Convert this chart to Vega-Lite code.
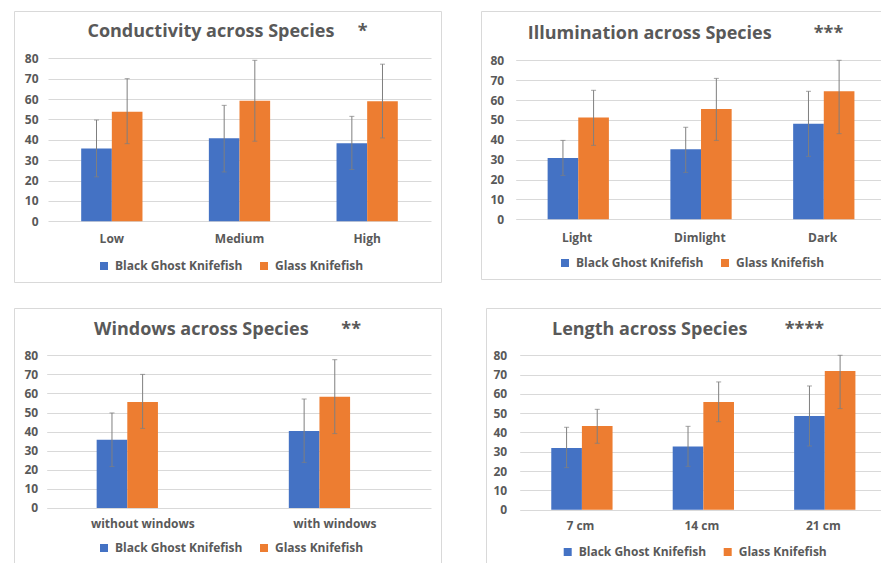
{
  "$schema": "https://vega.github.io/schema/vega-lite/v6.json",
  "padding": {"left": 13, "top": 10, "right": 0, "bottom": 0},
  "background": "white",
  "datasets": {
    "conductivity": [
      {"category": "Low", "species": "Black Ghost Knifefish", "mean": 35.7, "lower": 21.8, "upper": 49.7},
      {"category": "Low", "species": "Glass Knifefish", "mean": 53.8, "lower": 38.1, "upper": 70.0},
      {"category": "Medium", "species": "Black Ghost Knifefish", "mean": 40.7, "lower": 24.2, "upper": 56.9},
      {"category": "Medium", "species": "Glass Knifefish", "mean": 59.2, "lower": 39.3, "upper": 79.0},
      {"category": "High", "species": "Black Ghost Knifefish", "mean": 38.3, "lower": 25.4, "upper": 51.5},
      {"category": "High", "species": "Glass Knifefish", "mean": 58.9, "lower": 40.9, "upper": 77.1}
    ],
    "illumination": [
      {"category": "Light", "species": "Black Ghost Knifefish", "mean": 30.9, "lower": 22.1, "upper": 39.7},
      {"category": "Light", "species": "Glass Knifefish", "mean": 51.2, "lower": 37.2, "upper": 64.9},
      {"category": "Dimlight", "species": "Black Ghost Knifefish", "mean": 35.2, "lower": 23.6, "upper": 46.3},
      {"category": "Dimlight", "species": "Glass Knifefish", "mean": 55.5, "lower": 39.7, "upper": 70.9},
      {"category": "Dark", "species": "Black Ghost Knifefish", "mean": 48.1, "lower": 31.7, "upper": 64.4},
      {"category": "Dark", "species": "Glass Knifefish", "mean": 64.4, "lower": 43.1, "upper": 80.0}
    ],
    "windows": [
      {"category": "without windows", "species": "Black Ghost Knifefish", "mean": 35.8, "lower": 21.7, "upper": 49.8},
      {"category": "without windows", "species": "Glass Knifefish", "mean": 55.5, "lower": 41.7, "upper": 70.0},
      {"category": "with windows", "species": "Black Ghost Knifefish", "mean": 40.3, "lower": 23.9, "upper": 57.1},
      {"category": "with windows", "species": "Glass Knifefish", "mean": 58.3, "lower": 39.0, "upper": 77.7}
    ],
    "length": [
      {"category": "7 cm", "species": "Black Ghost Knifefish", "mean": 32.0, "lower": 21.8, "upper": 42.7},
      {"category": "7 cm", "species": "Glass Knifefish", "mean": 43.4, "lower": 34.4, "upper": 52.0},
      {"category": "14 cm", "species": "Black Ghost Knifefish", "mean": 32.8, "lower": 22.5, "upper": 43.2},
      {"category": "14 cm", "species": "Glass Knifefish", "mean": 55.8, "lower": 45.6, "upper": 66.2},
      {"category": "21 cm", "species": "Black Ghost Knifefish", "mean": 48.6, "lower": 33.0, "upper": 64.1},
      {"category": "21 cm", "species": "Glass Knifefish", "mean": 71.9, "lower": 52.4, "upper": 80.0}
    ]
  },
  "vconcat": [
    {
      "hconcat": [
        {
          "width": 427, "height": 271,
          "view": {"stroke": "#d9d9d9", "strokeWidth": 1},
          "title": {"text": "Conductivity across Species\u00a0\u00a0\u00a0\u00a0\u00a0*", "frame": "group", "anchor": "middle", "offset": -29.8, "baseline": "top"},
          "data": {"name": "conductivity"},
          "encoding": {
            "x": {"field": "category", "type": "nominal", "sort": null, "title": null,
                  "scale": {"range": [34, 417], "paddingInner": 0.52, "paddingOuter": 0.26},
                  "axis": {"offset": -60.7, "labelPadding": 12, "domain": false, "ticks": false, "labelAngle": 0, "grid": false}},
            "xOffset": {"field": "species", "type": "nominal", "sort": null, "scale": {"paddingInner": 0, "paddingOuter": 0}}
          },
          "layer": [
            {"mark": {"type": "bar"},
             "encoding": {
               "y": {"field": "mean", "type": "quantitative", "title": null,
                     "scale": {"domain": [-29.8, 103.2], "nice": false, "zero": false},
                     "axis": {"values": [0, 10, 20, 30, 40, 50, 60, 70, 80], "tickCount": 20, "labelOverlap": false, "offset": -34, "labelPadding": 10, "domain": false, "ticks": false, "grid": true}},
               "y2": {"datum": 0},
               "color": {"field": "species", "type": "nominal", "sort": null,
                         "scale": {"domain": ["Black Ghost Knifefish", "Glass Knifefish"], "range": ["#4472C4", "#ED7D31"]},
                         "legend": {"orient": "none", "legendX": 84, "legendY": 249, "direction": "horizontal", "title": null}}
             }},
            {"mark": {"type": "rule", "color": "#7f7f7f", "strokeWidth": 1},
             "encoding": {"y": {"field": "lower", "type": "quantitative", "title": null}, "y2": {"field": "upper"}}},
            {"mark": {"type": "tick", "color": "#7f7f7f", "size": 5, "thickness": 1},
             "encoding": {"y": {"field": "lower", "type": "quantitative", "title": null}}},
            {"mark": {"type": "tick", "color": "#7f7f7f", "size": 5, "thickness": 1},
             "encoding": {"y": {"field": "upper", "type": "quantitative", "title": null}}}
          ]
        },
        {
          "width": 403, "height": 268,
          "view": {"stroke": "#d9d9d9", "strokeWidth": 1},
          "title": {"text": "Illumination across Species\u00a0\u00a0\u00a0\u00a0\u00a0\u00a0\u00a0\u00a0\u00a0***", "frame": "group", "anchor": "middle", "offset": -31.5, "baseline": "top", "dx": 3},
          "data": {"name": "illumination"},
          "encoding": {
            "x": {"field": "category", "type": "nominal", "sort": null, "title": null,
                  "scale": {"range": [34.7, 403], "paddingInner": 0.52, "paddingOuter": 0.26},
                  "axis": {"offset": -59.7, "labelPadding": 13, "domain": false, "ticks": false, "labelAngle": 0, "grid": false}},
            "xOffset": {"field": "species", "type": "nominal", "sort": null, "scale": {"paddingInner": 0, "paddingOuter": 0}}
          },
          "layer": [
            {"mark": {"type": "bar"},
             "encoding": {
               "y": {"field": "mean", "type": "quantitative", "title": null,
                     "scale": {"domain": [-30.04, 104.8], "nice": false, "zero": false},
                     "axis": {"values": [0, 10, 20, 30, 40, 50, 60, 70, 80], "tickCount": 20, "labelOverlap": false, "offset": -34.7, "labelPadding": 12, "domain": false, "ticks": false, "grid": true}},
               "y2": {"datum": 0},
               "color": {"field": "species", "type": "nominal", "sort": null,
                         "scale": {"domain": ["Black Ghost Knifefish", "Glass Knifefish"], "range": ["#4472C4", "#ED7D31"]},
                         "legend": {"orient": "none", "legendX": 78, "legendY": 246, "direction": "horizontal", "title": null}}
             }},
            {"mark": {"type": "rule", "color": "#7f7f7f", "strokeWidth": 1},
             "encoding": {"y": {"field": "lower", "type": "quantitative", "title": null}, "y2": {"field": "upper"}}},
            {"mark": {"type": "tick", "color": "#7f7f7f", "size": 5, "thickness": 1},
             "encoding": {"y": {"field": "lower", "type": "quantitative", "title": null}}},
            {"mark": {"type": "tick", "color": "#7f7f7f", "size": 5, "thickness": 1},
             "encoding": {"y": {"field": "upper", "type": "quantitative", "title": null}}}
          ]
        }
      ],
      "spacing": 38,
      "resolve": {"scale": {"color": "independent"}, "legend": {"color": "independent"}}
    },
    {
      "hconcat": [
        {
          "width": 427, "height": 258,
          "view": {"stroke": "#d9d9d9", "strokeWidth": 1},
          "title": {"text": "Windows across Species\u00a0\u00a0\u00a0\u00a0\u00a0\u00a0\u00a0**", "frame": "group", "anchor": "middle", "offset": -30.8, "baseline": "top"},
          "data": {"name": "windows"},
          "encoding": {
            "x": {"field": "category", "type": "nominal", "sort": null, "title": null,
                  "scale": {"range": [32.7, 417], "paddingInner": 0.52, "paddingOuter": 0.26},
                  "axis": {"offset": -58, "labelPadding": 10, "domain": false, "ticks": false, "labelAngle": 0, "grid": false}},
            "xOffset": {"field": "species", "type": "nominal", "sort": null, "scale": {"paddingInner": 0, "paddingOuter": 0}}
          },
          "layer": [
            {"mark": {"type": "bar"},
             "encoding": {
               "y": {"field": "mean", "type": "quantitative", "title": null,
                     "scale": {"domain": [-30.39, 104.78], "nice": false, "zero": false},
                     "axis": {"values": [0, 10, 20, 30, 40, 50, 60, 70, 80], "tickCount": 20, "labelOverlap": false, "offset": -32.7, "labelPadding": 9, "domain": false, "ticks": false, "grid": true}},
               "y2": {"datum": 0},
               "color": {"field": "species", "type": "nominal", "sort": null,
                         "scale": {"domain": ["Black Ghost Knifefish", "Glass Knifefish"], "range": ["#4472C4", "#ED7D31"]},
                         "legend": {"orient": "none", "legendX": 84, "legendY": 234, "direction": "horizontal", "title": null}}
             }},
            {"mark": {"type": "rule", "color": "#7f7f7f", "strokeWidth": 1},
             "encoding": {"y": {"field": "lower", "type": "quantitative", "title": null}, "y2": {"field": "upper"}}},
            {"mark": {"type": "tick", "color": "#7f7f7f", "size": 5, "thickness": 1},
             "encoding": {"y": {"field": "lower", "type": "quantitative", "title": null}}},
            {"mark": {"type": "tick", "color": "#7f7f7f", "size": 5, "thickness": 1},
             "encoding": {"y": {"field": "upper", "type": "quantitative", "title": null}}}
          ]
        },
        {
          "width": 398, "height": 258,
          "view": {"stroke": "#d9d9d9", "strokeWidth": 1},
          "title": {"text": "Length across Species\u00a0\u00a0\u00a0\u00a0\u00a0\u00a0\u00a0\u00a0****", "frame": "group", "anchor": "middle", "offset": -30.5, "baseline": "top", "dx": 3},
          "data": {"name": "length"},
          "encoding": {
            "x": {"field": "category", "type": "nominal", "sort": null, "title": null,
                  "scale": {"range": [33.7, 398], "paddingInner": 0.52, "paddingOuter": 0.26},
                  "axis": {"offset": -56.3, "labelPadding": 11, "domain": false, "ticks": false, "labelAngle": 0, "grid": false}},
            "xOffset": {"field": "species", "type": "nominal", "sort": null, "scale": {"paddingInner": 0, "paddingOuter": 0}}
          },
          "layer": [
            {"mark": {"type": "bar"},
             "encoding": {
               "y": {"field": "mean", "type": "quantitative", "title": null,
                     "scale": {"domain": [-29.17, 104.5], "nice": false, "zero": false},
                     "axis": {"values": [0, 10, 20, 30, 40, 50, 60, 70, 80], "tickCount": 20, "labelOverlap": false, "offset": -33.7, "labelPadding": 13, "domain": false, "ticks": false, "grid": true}},
               "y2": {"datum": 0},
               "color": {"field": "species", "type": "nominal", "sort": null,
                         "scale": {"domain": ["Black Ghost Knifefish", "Glass Knifefish"], "range": ["#4472C4", "#ED7D31"]},
                         "legend": {"orient": "none", "legendX": 75.7, "legendY": 238, "direction": "horizontal", "title": null}}
             }},
            {"mark": {"type": "rule", "color": "#7f7f7f", "strokeWidth": 1},
             "encoding": {"y": {"field": "lower", "type": "quantitative", "title": null}, "y2": {"field": "upper"}}},
            {"mark": {"type": "tick", "color": "#7f7f7f", "size": 5, "thickness": 1},
             "encoding": {"y": {"field": "lower", "type": "quantitative", "title": null}}},
            {"mark": {"type": "tick", "color": "#7f7f7f", "size": 5, "thickness": 1},
             "encoding": {"y": {"field": "upper", "type": "quantitative", "title": null}}}
          ]
        }
      ],
      "spacing": 43,
      "resolve": {"scale": {"color": "independent"}, "legend": {"color": "independent"}}
    }
  ],
  "spacing": 24,
  "resolve": {"scale": {"color": "independent"}, "legend": {"color": "independent"}},
  "config": {
    "font": "Open Sans",
    "axis": {"labelFont": "Open Sans", "labelFontSize": 12, "labelFontWeight": "bold", "labelColor": "#595959", "gridColor": "#d9d9d9", "gridWidth": 1},
    "legend": {"labelFont": "Open Sans", "labelFontSize": 12, "labelFontWeight": "bold", "labelColor": "#595959", "symbolType": "square", "symbolSize": 64, "symbolStrokeWidth": 0, "columnPadding": 15, "labelOffset": 5, "padding": 0},
    "title": {"font": "Open Sans", "fontSize": 18, "fontWeight": "bold", "color": "#595959"},
    "bar": {"stroke": null}
  }
}
